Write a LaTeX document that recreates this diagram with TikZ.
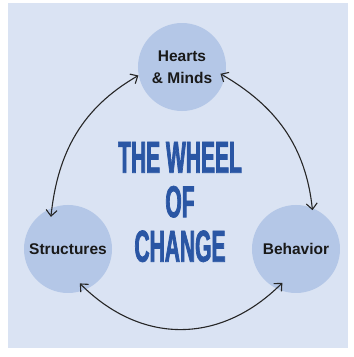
\documentclass[tikz,border=0pt]{standalone}
\usepackage{fontspec}
\usepackage{tikz}
\usetikzlibrary{arrows.meta,calc}
\newfontfamily\labelfont{Liberation Sans}
\newfontfamily\titlefont[FakeStretch=0.47,FakeBold=1.6]{Liberation Sans}
\definecolor{paneblue}{RGB}{218,227,243}
\definecolor{hubblue}{RGB}{180,199,231}
\definecolor{titleblue}{RGB}{42,86,164}

\begin{document}
\begin{tikzpicture}[x=1pt,y=1pt,thick,ampersand replacement=\&]
\tikzset{
hub/.style = {circle,fill=hubblue,text=black!90,minimum size=88pt,inner sep=0pt,align=center,font=\labelfont\bfseries\fontsize{15.5}{22}\selectfont},
wheelarrow/.style = {draw=black!85,line width=1.1pt,{Straight Barb[length=6pt,width=11pt]}-{Straight Barb[length=6pt,width=11pt]}},
headline/.style = {text=titleblue,align=center,font=\titlefont\bfseries\fontsize{44.7}{44.5}\selectfont},
}
\useasboundingbox (0,0) rectangle (354,357);
\fill[paneblue] (8,9) rectangle (348,354);
    %
\matrix[row sep=94pt, column sep=26pt] (wheel) at (182,199) { % 3 columns
    % First row.
\&\node[hub] (hm) {Hearts\\{\char38} Minds};
\&\\
    % Second row.
\node[hub] (st) {Structures};
\&
\&\node[hub] (bh) {Behavior};\\
};

\node[headline] (title) at (180,155) {THE WHEEL\\OF\\CHANGE};

% Arrows round the wheel, tips a little inside the circles.
\draw[wheelarrow] (hm.191) to[out=210,in=84] ($(st.center)!0.82!(st.118)$);
\draw[wheelarrow] ($(hm.center)!0.88!(hm.-10)$) to[out=-30,in=96] ($(bh.center)!0.95!(bh.67)$);
\draw[wheelarrow] ($(st.center)!0.82!(st.-71)$) to[out=-45,in=225,looseness=1.1] ($(bh.center)!0.82!(bh.-112)$);
    %
\end{tikzpicture}
\end{document}
